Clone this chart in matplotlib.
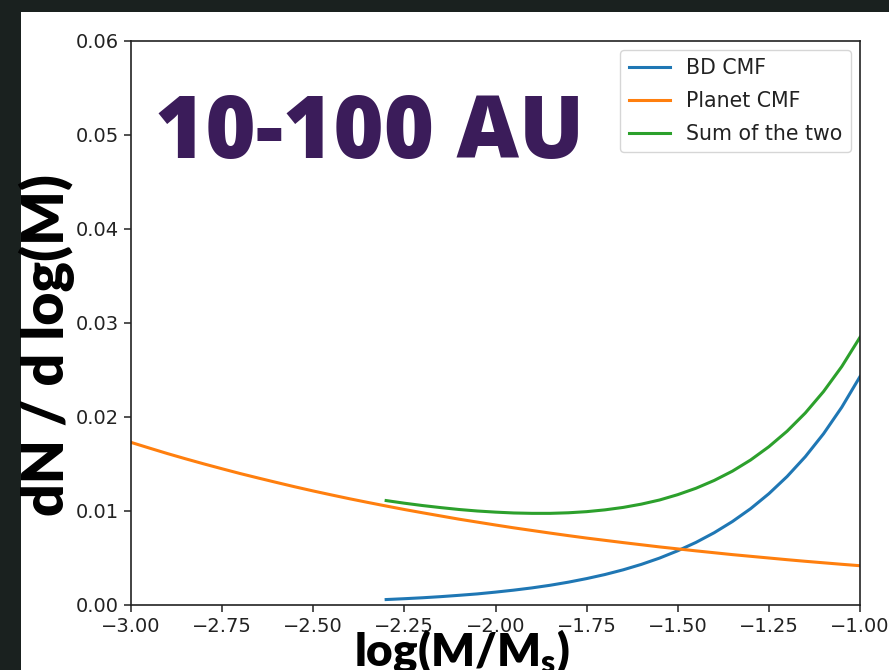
import matplotlib
matplotlib.use("Agg")
import matplotlib.pyplot as plt
from matplotlib.patches import Rectangle

# Data
planet_x = [-3.00, -2.95, -2.90, -2.85, -2.80, -2.75, -2.70, -2.65, -2.60,
            -2.55, -2.50, -2.45, -2.40, -2.35, -2.30, -2.25, -2.20, -2.15,
            -2.10, -2.05, -2.00, -1.95, -1.90, -1.85, -1.80, -1.75, -1.70,
            -1.65, -1.60, -1.55, -1.50, -1.45, -1.40, -1.35, -1.30, -1.25,
            -1.20, -1.15, -1.10, -1.05, -1.00]
planet_y = [0.01730, 0.01670, 0.01611, 0.01555, 0.01501, 0.01449, 0.01398,
            0.01350, 0.01303, 0.01257, 0.01213, 0.01171, 0.01130, 0.01091,
            0.01053, 0.01016, 0.00981, 0.00947, 0.00913, 0.00882, 0.00851,
            0.00821, 0.00793, 0.00765, 0.00738, 0.00712, 0.00688, 0.00664,
            0.00641, 0.00618, 0.00597, 0.00576, 0.00556, 0.00536, 0.00518,
            0.00500, 0.00482, 0.00465, 0.00449, 0.00433, 0.00418]
bd_x = [-2.30, -2.25, -2.20, -2.15, -2.10, -2.05, -2.00, -1.95, -1.90,
        -1.85, -1.80, -1.75, -1.70, -1.65, -1.60, -1.55, -1.50, -1.45,
        -1.40, -1.35, -1.30, -1.25, -1.20, -1.15, -1.10, -1.05, -1.00]
bd_y = [0.00058, 0.00067, 0.00077, 0.00089, 0.00103, 0.00118, 0.00137,
        0.00158, 0.00182, 0.00210, 0.00243, 0.00281, 0.00324, 0.00374,
        0.00432, 0.00499, 0.00577, 0.00666, 0.00769, 0.00888, 0.01025,
        0.01184, 0.01367, 0.01578, 0.01822, 0.02104, 0.02430]
x_ticks = [-3.00, -2.75, -2.50, -2.25, -2.00, -1.75, -1.50, -1.25, -1.00]
y_ticks = [0.00, 0.01, 0.02, 0.03, 0.04, 0.05, 0.06]
labels = ["BD CMF", "Planet CMF", "Sum of the two"]

planet_at_bd = [planet_y[planet_x.index(x)] for x in bd_x]
sum_y = [a + b for a, b in zip(bd_y, planet_at_bd)]

W, H = 889, 670
fig = plt.figure(figsize=(W / 100, H / 100), dpi=100)
fig.patch.set_facecolor("#1a211f")
bg = Rectangle((21 / W, 0), 1 - 21 / W, 1 - 12 / H,
               transform=fig.transFigure, facecolor="white",
               edgecolor="none", zorder=-10)
fig.add_artist(bg)

ax = fig.add_axes([131 / W, 1 - 605 / H, (860 - 131) / W, (605 - 41) / H])
ax.set_zorder(1)
ax.plot(bd_x, bd_y, color="#1f77b4", lw=2.2, label=labels[0])
ax.plot(planet_x, planet_y, color="#ff7f0e", lw=2.2, label=labels[1])
ax.plot(bd_x, sum_y, color="#2ca02c", lw=2.2, label=labels[2])

ax.set_xlim(-3.0, -1.0)
ax.set_ylim(0.0, 0.06)
ax.set_xticks(x_ticks)
ax.set_xticklabels([f"{v:.2f}".replace("-", "\u2212") for v in x_ticks])
ax.set_yticks(y_ticks)
ax.set_yticklabels([f"{v:.2f}" for v in y_ticks])
ax.tick_params(labelsize=14, length=5, width=1.1, colors="#222222")
for s in ax.spines.values():
    s.set_linewidth(1.2)
    s.set_color("#222222")

leg = ax.legend(loc="upper right", fontsize=14.8, frameon=True,
                handlelength=2.0, borderaxespad=0.45, labelspacing=0.62)
for t in leg.get_texts():
    t.set_color("#222222")

fig.text(155 / W, 1 - 158 / H, "10-100 AU", fontsize=62, fontweight="heavy",
         family=["Open Sans", "DejaVu Sans"], color="#3b1c5a",
         ha="left", va="baseline", zorder=5)
fig.text(47 / W, 1 - 345 / H, "dN / d log(M)", fontsize=41, fontweight="heavy",
         family=["Lato", "DejaVu Sans"], color="black", rotation=90,
         ha="center", va="center", zorder=5)
fig.text(462 / W, 1 - 628 / H, r"log(M/M$_\mathregular{s}$)", fontsize=33,
         fontweight="heavy", family=["Lato", "DejaVu Sans"], color="black",
         ha="center", va="top", zorder=5)

fig.savefig("out.png", dpi=100, facecolor=fig.get_facecolor())
